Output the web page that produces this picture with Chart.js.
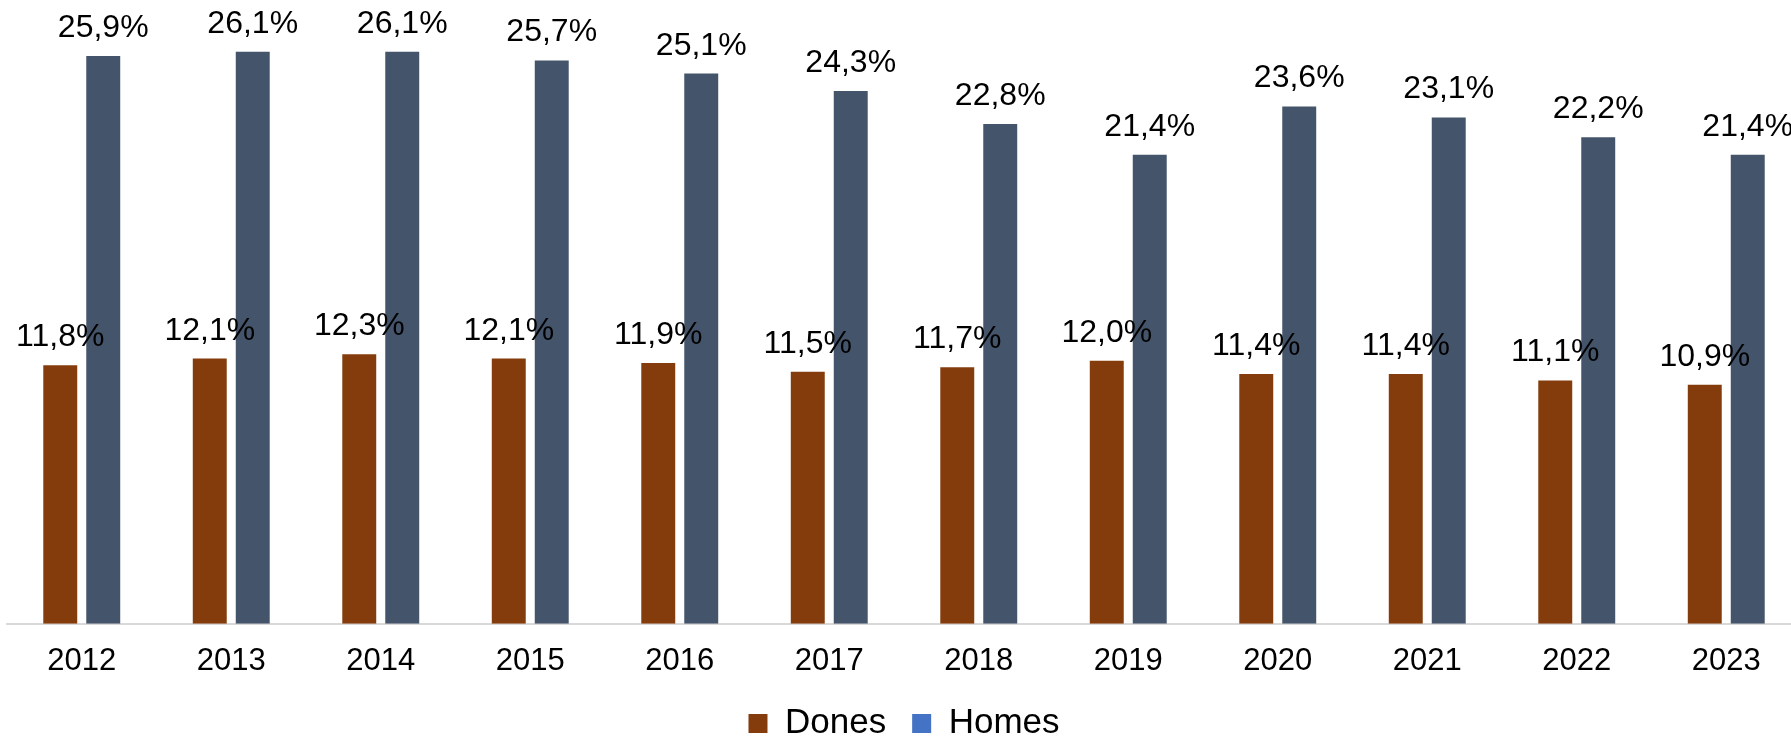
<!DOCTYPE html>
<html>
<head>
<meta charset="utf-8">
<script src="https://cdn.jsdelivr.net/npm/chart.js@4/dist/chart.umd.min.js"></script>
<style>
html,body{margin:0;padding:0;background:#fff;overflow:hidden;}
#wrap{width:1791px;height:738px;position:relative;overflow:hidden;}
#c{position:absolute;left:0;top:0;}
</style>
</head>
<body>
<div id="wrap"><canvas id="c" width="1801" height="751"></canvas></div>
<script>
const categories = ['2012','2013','2014','2015','2016','2017','2018','2019','2020','2021','2022','2023'];
const donesValues = [11.8, 12.1, 12.3, 12.1, 11.9, 11.5, 11.7, 12.0, 11.4, 11.4, 11.1, 10.9];
const homesValues = [25.9, 26.1, 26.1, 25.7, 25.1, 24.3, 22.8, 21.4, 23.6, 23.1, 22.2, 21.4];
const seriesNames = ['Dones', 'Homes'];

const FONT = '"Liberation Sans", Arial, sans-serif';
const fmt = v => v.toFixed(1).replace('.', ',') + '%';

const labelPlugin = {
  id: 'valueLabels',
  afterDatasetsDraw(chart) {
    const ctx = chart.ctx;
    ctx.save();
    ctx.font = '32px ' + FONT;
    ctx.fillStyle = '#000';
    ctx.textAlign = 'center';
    ctx.textBaseline = 'alphabetic';
    chart.data.datasets.forEach((ds, di) => {
      const meta = chart.getDatasetMeta(di);
      meta.data.forEach((bar, i) => {
        ctx.fillText(fmt(ds.data[i]), bar.x, bar.y - 19);
      });
    });
    ctx.restore();
  }
};

new Chart(document.getElementById('c'), {
  type: 'bar',
  data: {
    labels: categories,
    datasets: [
      { label: seriesNames[0], data: donesValues, backgroundColor: '#843C0C', legendColor: '#843C0C' },
      { label: seriesNames[1], data: homesValues, backgroundColor: '#44546A', legendColor: '#4472C4' }
    ]
  },
  options: {
    responsive: false,
    animation: false,
    devicePixelRatio: 1,
    datasets: { bar: { categoryPercentage: 0.575, barPercentage: 0.79 } },
    layout: { padding: { left: 7, right: 0, top: 10, bottom: 0 } },
    scales: {
      x: {
        grid: { display: false, drawTicks: true, tickLength: 19 },
        border: { display: true, color: '#D9D9D9', width: 2 },
        ticks: { color: '#000', font: { family: FONT, size: 31 }, padding: 0, maxRotation: 0 }
      },
      y: { display: false, min: 0, max: 28 }
    },
    plugins: {
      tooltip: { enabled: false },
      legend: {
        position: 'bottom',
        labels: {
          color: '#000',
          font: { family: FONT, size: 35 },
          boxWidth: 19,
          boxHeight: 19,
          padding: 26,
          generateLabels(chart) {
            return chart.data.datasets.map((ds, i) => ({
              text: ds.label,
              fillStyle: ds.legendColor,
              strokeStyle: ds.legendColor,
              lineWidth: 0,
              fontColor: '#000',
              datasetIndex: i,
              hidden: false
            }));
          }
        }
      }
    }
  },
  plugins: [labelPlugin]
});
</script>
</body>
</html>
